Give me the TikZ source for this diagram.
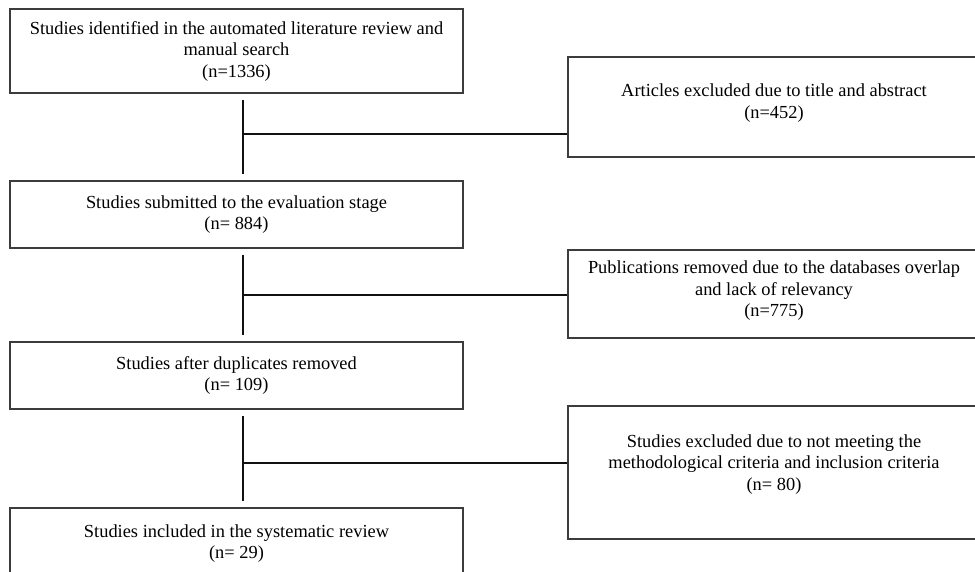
\documentclass[tikz,border=0pt]{standalone}
\usepackage{fontspec}
\setmainfont{Liberation Serif}
\usepackage{tikz}
\usetikzlibrary{calc}
\usepackage{xcolor}
\definecolor{FrameGray}{HTML}{3c3c3c}
\definecolor{LinkBlack}{HTML}{111111}

\begin{document}
\begin{tikzpicture}[x=1pt,y=-1pt,
    stagebox/.style={draw=FrameGray,line width=1.3pt,align=center,
      minimum width=453pt,inner sep=0pt,font=\fontsize{18.4}{21.5}\selectfont},
    dropbox/.style={stagebox,minimum width=412pt},
    link/.style={draw=LinkBlack,line width=2pt,shorten <=6pt,shorten >=6pt},
    branch/.style={draw=LinkBlack,line width=2pt}]
   \useasboundingbox (0,0) rectangle (975,571);

   % main column
   \node[stagebox,minimum height=84pt] (s1) at (236.5,51)
     {Studies identified in the automated literature review and\\manual search\\(n=1336)};
   \node[stagebox,minimum height=67pt] (s2) at (236.5,214.5)
     {Studies submitted to the evaluation stage\\(n= 884)};
   \node[stagebox,minimum height=67pt] (s3) at (236.5,375.5)
     {Studies after duplicates removed\\(n= 109)};
   \node[stagebox,minimum height=71pt] (s4) at (236.5,543.5)
     {Studies included in the systematic review\\(n= 29)};

   % excluded records
   \node[dropbox,minimum height=100pt,text depth=12pt] (e1) at (774,107)
     {Articles excluded due to title and abstract\\(n=452)};
   \node[dropbox,minimum height=88pt,text depth=10pt] (e2) at (774,294)
     {Publications removed due to the databases overlap\\and lack of relevancy\\(n=775)};
   \node[dropbox,minimum height=133pt,text depth=20pt] (e3) at (774,472.5)
     {Studies excluded due to not meeting the\\methodological criteria and inclusion criteria\\(n= 80)};

   % spine and branches
   \foreach \top/\bot/\out/\at in {s1/s2/e1/.46,s2/s3/e2/.5,s3/s4/e3/.55} {
    \draw[link] ($(\top.south)+(6.5,0)$) -- ($(\bot.north)+(6.5,0)$);
    \coordinate (j-\out) at ($(\top.south)!\at!(\bot.north)+(6.5,0)$);
    \draw[branch] (j-\out) -- (j-\out -| \out.west);
   }
  \end{tikzpicture}
\end{document}
